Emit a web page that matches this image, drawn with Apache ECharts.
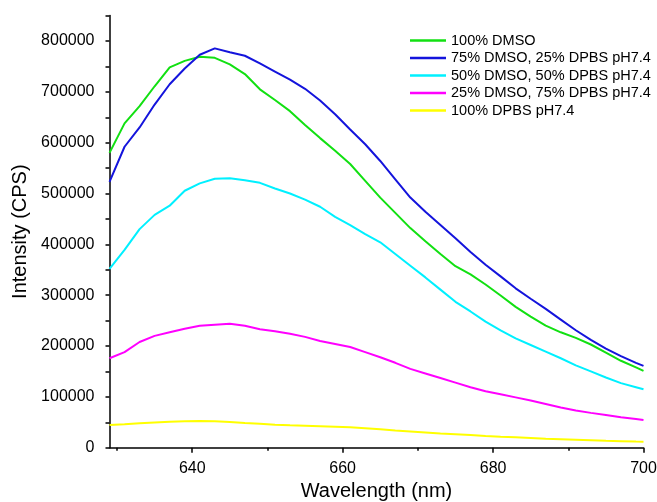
<!DOCTYPE html>
<html>
<head>
<meta charset="utf-8">
<script src="https://cdn.jsdelivr.net/npm/echarts@6/dist/echarts.min.js"></script>
<style>html,body{margin:0;padding:0;background:#fff}#c{width:657px;height:502px}</style>
</head>
<body>
<div id="c"></div>
<script>
var wavelengths = [629,631,633,635,637,639,641,643,645,647,649,651,653,655,657,659,661,663,665,667,669,671,673,675,677,679,681,683,685,687,689,691,693,695,697,699,700];
var dmso100 = [580000,638000,672000,711000,748000,761000,769000,767000,754000,735000,705000,684000,662000,635000,609000,584000,558000,525000,492000,462000,432000,406000,381000,357000,341000,321000,299500,277000,258000,240000,227000,216000,203000,187000,171000,158000,151000];
var dmso75 = [523000,592000,630000,675000,715000,746000,773000,785500,778000,771000,756000,740000,724000,706000,683000,656000,626000,597000,564000,528000,492000,464000,438000,412000,385000,360000,337000,313500,293000,273000,252000,231000,212000,195000,180000,167000,161000];
var dmso50 = [352000,389000,430000,458000,476000,505500,520000,529000,530000,526000,521000,510000,500000,488000,474000,454000,438000,420000,404000,381000,358000,335000,311000,287000,268000,248000,231000,215000,202000,189000,176000,162000,150000,138000,127000,119000,115000];
var dmso25 = [176000,188000,208000,220000,227000,234000,240000,242000,244000,240000,233000,229000,224000,218000,210000,204000,198000,188000,178000,167000,155000,146000,137000,128000,119000,111000,105000,99000,93000,86000,79000,73000,68500,64500,60000,56500,54500];
var dpbs100 = [44600,46000,48000,49500,51000,52000,52500,52000,50500,48500,47000,45000,44000,43300,42300,41300,40000,38500,36500,34000,32000,30000,28000,26500,25000,23000,21500,20500,19000,17500,16500,15500,14500,13500,12800,12000,11800];

var seriesNames = ['100% DMSO','75% DMSO, 25% DPBS pH7.4','50% DMSO, 50% DPBS pH7.4','25% DMSO, 75% DPBS pH7.4','100% DPBS pH7.4'];
var seriesValues = [dmso100, dmso75, dmso50, dmso25, dpbs100];
var seriesColors = ['#12e012','#1414dc','#00f0ff','#ff00ff','#ffff00'];

var xLabelValues = [640,660,680,700];
var xMinorTickValues = [630,650,670,690];
var yLabelValues = [0,100000,200000,300000,400000,500000,600000,700000,800000];

var font = 'Arial, "Liberation Sans", sans-serif';

function pairs(vals){ return wavelengths.map(function(w,i){ return [w, vals[i]]; }); }

var chart = echarts.init(document.getElementById('c'), null, {renderer:'canvas'});
chart.setOption({
  animation: false,
  backgroundColor: '#fff',
  grid: {left: 109.5, right: 13.5, top: 15.6, bottom: 54.3, outerBoundsMode: 'none', containLabel: false},
  legend: {
    left: 410, top: 33, orient: 'vertical', padding: 0,
    icon: 'rect', itemWidth: 36, itemHeight: 2.5, itemGap: 2.5,
    textStyle: {fontFamily: font, fontSize: 14.5, color: '#000'},
    data: seriesNames
  },
  xAxis: [{
    type: 'value', min: 629, max: 700,
    name: 'Wavelength (nm)', nameLocation: 'middle', nameGap: 33,
    nameTextStyle: {fontFamily: font, fontSize: 20, color: '#000'},
    axisLine: {lineStyle: {color: '#000', width: 1.5}},
    axisTick: {customValues: xLabelValues, length: 5, lineStyle: {color: '#000', width: 1.5}},
    axisLabel: {customValues: xLabelValues, margin: 13, fontFamily: font, fontSize: 16, color: '#000'},
    splitLine: {show: false}
  }, {
    type: 'value', min: 629, max: 700, position: 'bottom',
    axisLine: {show: false},
    axisTick: {customValues: xMinorTickValues, length: 3, lineStyle: {color: '#000', width: 1.5}},
    axisLabel: {show: false},
    splitLine: {show: false}
  }],
  yAxis: {
    type: 'value', min: 0, max: 850000, interval: 50000,
    name: 'Intensity (CPS)', nameLocation: 'middle', nameGap: 70,
    nameTextStyle: {fontFamily: font, fontSize: 20, color: '#000'},
    axisLine: {show: true, lineStyle: {color: '#000', width: 1.5}},
    axisTick: {show: true, length: 4, lineStyle: {color: '#000', width: 1.5}},
    axisLabel: {customValues: yLabelValues, margin: 15, fontFamily: font, fontSize: 16, color: '#000',
      formatter: function(v){ return String(v); }},
    splitLine: {show: false}
  },
  series: seriesNames.map(function(n, i){
    return {
      name: n, type: 'line', xAxisIndex: 0, data: pairs(seriesValues[i]),
      showSymbol: false, symbol: 'none',
      lineStyle: {color: seriesColors[i], width: 2},
      itemStyle: {color: seriesColors[i]}
    };
  })
});
</script>
</body>
</html>
